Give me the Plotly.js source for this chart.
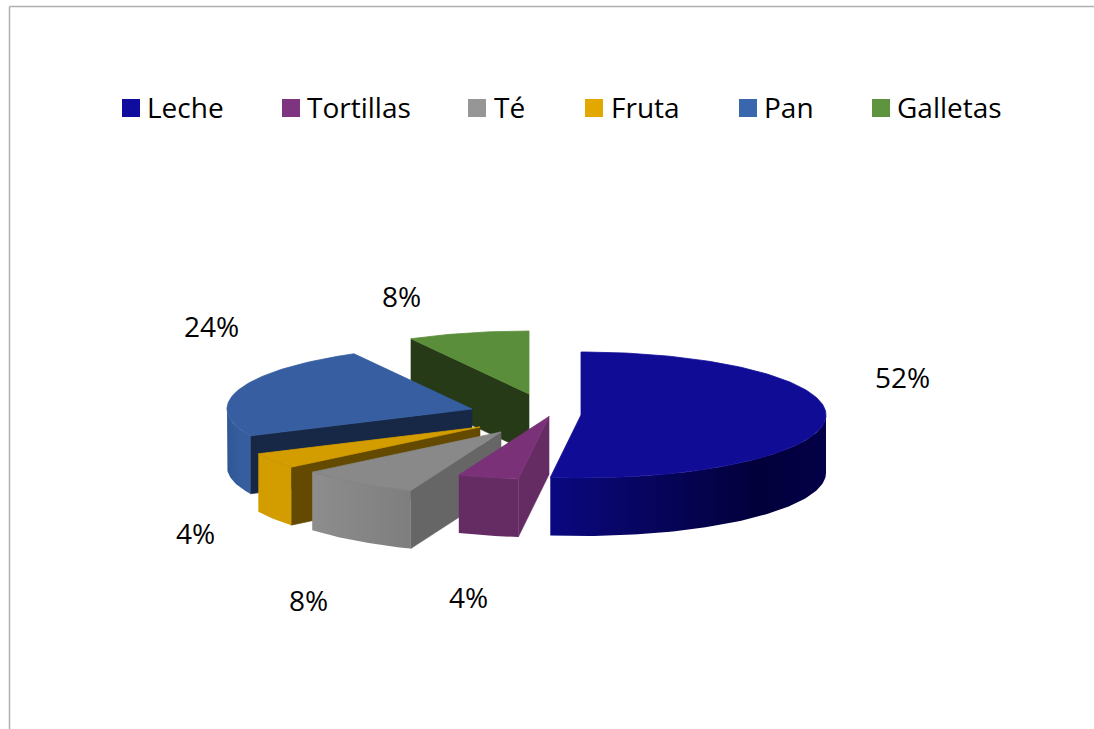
<!DOCTYPE html>
<html>
<head>
<meta charset="utf-8">
<script src="https://cdn.plot.ly/plotly-3.0.1.min.js"></script>
<style>html,body{margin:0;padding:0;background:#fff;overflow:hidden}#c{width:1094px;height:729px}</style>
</head>
<body>
<div id="c"></div>
<script>
// Data
const categories = ['Leche', 'Tortillas', 'Té', 'Fruta', 'Pan', 'Galletas'];
const percents = [52, 4, 8, 4, 24, 8];
// Styles
const topColors = ['#100C96', '#7A3178', '#898989', '#D39D00', '#365EA0', '#5B8E3A'];
const legendColors = ['#100C9E', '#7F3480', '#969696', '#E3A800', '#3A66AE', '#5E9440'];
const sideColors = ['#03003F', '#652B63', '#666666', '#634A00', '#162845', '#263A18'];
const rimScales = [
  [[0, '#0A0880'], [0.35, '#07055E'], [0.75, '#02003A'], [1, '#040048']],
  [[0, '#652B63'], [1, '#652B63']],
  [[0, '#8D8D8D'], [1, '#7E7E7E']],
  [[0, '#D39D00'], [1, '#D39D00']],
  [[0, '#2F5795'], [0.5, '#355C9C'], [1, '#365EA0']],
  [[0, '#263A18'], [1, '#263A18']]
];
// 3D pie projection (page pixels)
const apexX = [581, 549, 501, 480, 472, 529];
const apexY = [415, 416.5, 432, 427, 409, 394];
const rx = 245, ry = 63, depth = 58;
const drawOrder = [5, 4, 3, 2, 1, 0];
const labelX = [902, 468, 308, 195, 211, 401];
const labelY = [377, 597, 600, 533, 326, 296];
const legendSwatchX = [131, 291, 477, 594, 748, 881];
const legendTextX = [145, 305, 492, 609, 762, 895];
const legendY = 107;
const swatchY = 108;

const total = percents.reduce((a, b) => a + b, 0);
const starts = [];
percents.reduce((acc, p, i) => { starts[i] = acc / total * 2 * Math.PI; return acc + p; }, 0);
const ends = starts.map((s, i) => s + percents[i] / total * 2 * Math.PI);
const ptX = (i, a) => apexX[i] + rx * Math.sin(a);
const ptY = (i, a) => apexY[i] - ry * Math.cos(a);
function arc(i, a, b, dy) {
  const n = Math.max(2, Math.ceil((b - a) / 0.02)), xs = [], ys = [];
  for (let k = 0; k <= n; k++) {
    const t = a + (b - a) * k / n;
    xs.push(ptX(i, t)); ys.push(ptY(i, t) + dy);
  }
  return [xs, ys];
}
const poly = (xs, ys, extra) => Object.assign({
  x: xs, y: ys, type: 'scatter', mode: 'lines', fill: 'toself', line: {width: 0},
  hoverinfo: 'skip', showlegend: false
}, extra);

const traces = [];
drawOrder.forEach(i => {
  const s = starts[i], e = ends[i];
  // radial side face at the slice's starting edge, when it faces the viewer
  if (i !== 0) {
    const px = ptX(i, s), py = ptY(i, s);
    traces.push(poly([apexX[i], px, px, apexX[i], apexX[i]], [apexY[i], py, py + depth, apexY[i] + depth, apexY[i]],
      {fillcolor: sideColors[i], line: {width: 0.6, color: sideColors[i]}}));
  }
  // outer rim: only the front half of the ellipse
  const a = Math.max(s, Math.PI / 2), b = Math.min(e, 3 * Math.PI / 2);
  if (b > a) {
    const [tx, ty] = arc(i, a, b, 0), [bx, by] = arc(i, a, b, depth);
    traces.push(poly(tx.concat(bx.slice().reverse()), ty.concat(by.slice().reverse()),
      {fillgradient: {type: 'horizontal', colorscale: rimScales[i]}}));
  }
  // top surface
  const [ax, ay] = arc(i, s, e, 0);
  traces.push(poly([apexX[i]].concat(ax, [apexX[i]]), [apexY[i]].concat(ay, [apexY[i]]),
    {fillcolor: topColors[i], line: {width: 0.8, color: topColors[i]}, name: categories[i]}));
});
// legend swatches
traces.push({
  x: legendSwatchX, y: categories.map(() => swatchY), type: 'scatter', mode: 'markers',
  hoverinfo: 'skip', showlegend: false,
  marker: {symbol: 'square', size: 18, color: legendColors, line: {width: 0}}
});

const font = {family: '"Open Sans", Lato, sans-serif', size: 28, color: '#000'};
const layout = {
  width: 1094, height: 729, margin: {l: 0, r: 0, t: 0, b: 0},
  paper_bgcolor: '#fff', plot_bgcolor: '#fff',
  xaxis: {range: [0, 1094], visible: false, fixedrange: true},
  yaxis: {range: [729, 0], visible: false, fixedrange: true},
  showlegend: false,
  shapes: [
    {type: 'line', x0: 9.5, x1: 9.5, y0: 6.5, y1: 729, line: {color: '#B0B0B0', width: 1.5}},
    {type: 'line', x0: 9.5, x1: 1094, y0: 6.5, y1: 6.5, line: {color: '#B0B0B0', width: 1.5}}
  ],
  annotations: percents.map((p, i) => ({
    x: labelX[i], y: labelY[i], xref: 'x', yref: 'y', text: Math.round(p / total * 100) + '%',
    showarrow: false, font: font, xanchor: 'center', yanchor: 'middle'
  })).concat(categories.map((c, i) => ({
    x: legendTextX[i], y: legendY, xref: 'x', yref: 'y', text: c,
    showarrow: false, font: font, xanchor: 'left', yanchor: 'middle'
  })))
};
Plotly.newPlot('c', traces, layout, {displayModeBar: false, responsive: false});
</script>
</body>
</html>
